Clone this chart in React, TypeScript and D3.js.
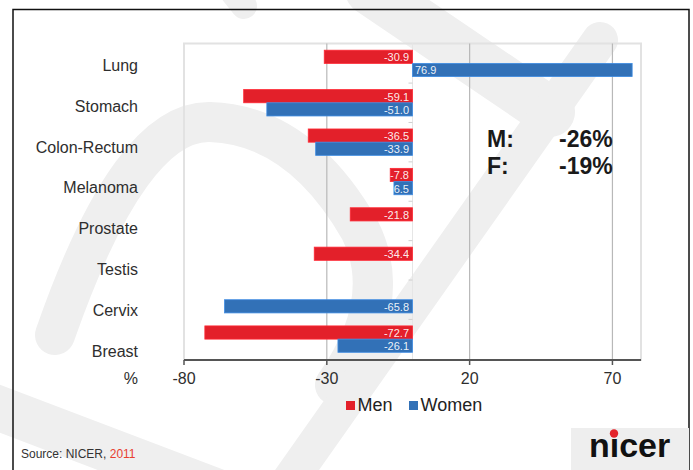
import { useMemo } from "react"
import * as d3 from 'd3'

// chart data
const categories = ["Lung", "Stomach", "Colon-Rectum", "Melanoma", "Prostate", "Testis", "Cervix", "Breast"]
const menValues: (number | null)[] = [-30.9, -59.1, -36.5, -7.8, -21.8, -34.4, null, -72.7]
const womenValues: (number | null)[] = [76.9, -51.0, -33.9, -6.5, null, null, -65.8, -26.1]
const seriesNames = ["Men", "Women"]
const seriesColors = ["#e3202a", "#3271b7"]
const xTickValues = [-80, -30, 20, 70]
const summaryLabels = ["M:", "F:"]
const summaryValues = ["-26%", "-19%"]

const W = 693
const H = 470
const FONT = "'Liberation Sans', Arial, Helvetica, sans-serif"
const plot = { left: 184, right: 641, top: 43.5, bottom: 360 }

// plain hyphen for negatives, like the original slide
const locale = d3.formatLocale({ decimal: ".", thousands: ",", grouping: [3], currency: ["", ""], minus: "-" })

const App = () => {
  const x = useMemo(() => d3.scaleLinear().domain([-80, 80]).range([plot.left, plot.right]), [])
  const y = useMemo(() => d3.scaleBand()
    .domain(categories)
    .range([plot.top, 359])
    .paddingInner(0.33)
    .paddingOuter(0.17), [])
  const ySub = useMemo(() => d3.scaleBand().domain(seriesNames).range([0, y.bandwidth()]), [y])
  // the category labels sit a bit lower than the bars in the original
  const labelY = useMemo(() => d3.scalePoint().domain(categories).range([71, 356.5]), [])
  const fmt = locale.format(".1f")
  const tickFmt = locale.format("d")

  const bars = categories.flatMap((cat, i) =>
    [menValues[i], womenValues[i]].map((v, s) => ({ cat, v, s, name: seriesNames[s] }))
  ).filter(d => d.v !== null) as { cat: string, v: number, s: number, name: string }[]

  const x0 = x(0)
  const boundaries = categories.slice(1).map(c => (y(c) as number) - y.step() * 0.33 / 2)

  return (
    <svg width={W} height={H} style={{ position: "absolute", left: 0, top: 0, background: "#fff" }}
      fontFamily={FONT}>
      {/* faint watermark behind the slide */}
      <g fill="none" stroke="#efefef" strokeLinecap="round">
        <path d="M 55 335 Q 130 120 210 122 Q 300 125 360 230 Q 395 300 335 385" strokeWidth={40} />
        <path d="M 370 -10 L 550 112" strokeWidth={50} />
        <path d="M 600 40 L 290 480" strokeWidth={36} />
        <path d="M -10 405 L 240 500" strokeWidth={45} />
        <path d="M 215 -30 L 244 6" strokeWidth={26} />
      </g>

      {/* slide frame */}
      <rect x={13} y={9.5} width={676} height={H} fill="none" stroke="#111" strokeWidth={1.5} />

      {/* plot frame */}
      <rect x={plot.left} y={plot.top} width={plot.right - plot.left} height={plot.bottom - plot.top}
        fill="none" stroke="#e2e2e2" strokeWidth={2} />

      {xTickValues.filter(t => t > -80).map(t => (
        <line key={t} x1={x(t)} x2={x(t)} y1={plot.top} y2={plot.bottom} stroke="#b8b8b8" strokeWidth={1.2} />
      ))}

      {/* zero axis */}
      <line x1={x0} x2={x0} y1={plot.top} y2={plot.bottom} stroke="#e6e6e6" strokeWidth={1} />
      {boundaries.map((b, i) => (
        <line key={i} x1={x0 - 4} x2={x0} y1={b} y2={b} stroke="#cfcfcf" strokeWidth={1} />
      ))}

      <defs>
        {bars.map((d, i) => {
          const bx = x(Math.min(0, d.v))
          const bw = Math.abs(x(d.v) - x0)
          return (
            <clipPath id={`clip-${i}`} key={i}>
              <rect x={bx} y={(y(d.cat) as number) + (ySub(d.name) as number)} width={bw} height={ySub.bandwidth()} />
            </clipPath>
          )
        })}
      </defs>

      {bars.map((d, i) => {
        const by = (y(d.cat) as number) + (ySub(d.name) as number)
        const bx = x(Math.min(0, d.v))
        const bw = Math.abs(x(d.v) - x0)
        const col = seriesColors[d.s]
        return (
          <g key={i}>
            <rect x={bx} y={by} width={bw} height={ySub.bandwidth()} fill={col}
              stroke={d3.color(col)!.brighter(0.6).toString()} strokeWidth={0.8} />
            <text
              clipPath={`url(#clip-${i})`}
              x={d.v < 0 ? x0 - 3.5 : x0 + 2.5}
              y={by + ySub.bandwidth() / 2 + 0.5}
              dominantBaseline="central"
              textAnchor={d.v < 0 ? "end" : "start"}
              fontSize={11}
              fill="#fff"
              fillOpacity={0.92}>
              {fmt(d.v)}
            </text>
          </g>
        )
      })}

      {/* category labels */}
      {categories.map(c => (
        <text key={c} x={138} y={labelY(c)} textAnchor="end" fontSize={16} fill="#2e2e2e">{c}</text>
      ))}

      {/* bottom axis */}
      <path d={`M ${plot.left} ${plot.bottom} H ${plot.right}`} stroke="#555" strokeWidth={2} />
      {xTickValues.map(t => (
        <g key={t} transform={`translate(${x(t)}, ${plot.bottom})`}>
          <line y2={5} stroke="#555" strokeWidth={1.5} />
          <text y={24} textAnchor="middle" fontSize={16} fill="#2e2e2e">{tickFmt(t)}</text>
        </g>
      ))}
      <text x={138} y={384} textAnchor="end" fontSize={16} fill="#2e2e2e">%</text>

      {/* legend */}
      {seriesNames.map((n, i) => {
        const lx = i === 0 ? 346 : 409
        return (
          <g key={n}>
            <rect x={lx} y={401} width={9} height={9} fill={seriesColors[i]} />
            <text x={lx + 11.5} y={410.5} fontSize={18} fill="#222">{n}</text>
          </g>
        )
      })}

      {/* summary */}
      {summaryLabels.map((l, i) => (
        <g key={l} fontSize={23} fontWeight="bold" fill="#1a1a1a">
          <text x={487} y={146.5 + i * 27.5}>{l}</text>
          <text x={559} y={146.5 + i * 27.5}>{summaryValues[i]}</text>
        </g>
      ))}

      {/* source */}
      <text x={21} y={458} fontSize={12} fill="#333">
        Source: NICER, <tspan fill="#e8402f">2011</tspan>
      </text>

      {/* logo */}
      <rect x={571} y={428} width={118} height={H - 428} fill="#eeeeee" />
      <text x={589} y={457} fontSize={34} fontWeight="bold" fill="#111">nicer</text>
      <circle cx={614} cy={433.5} r={4.2} fill="#e3242b" />
    </svg>
  )
}

export default App
